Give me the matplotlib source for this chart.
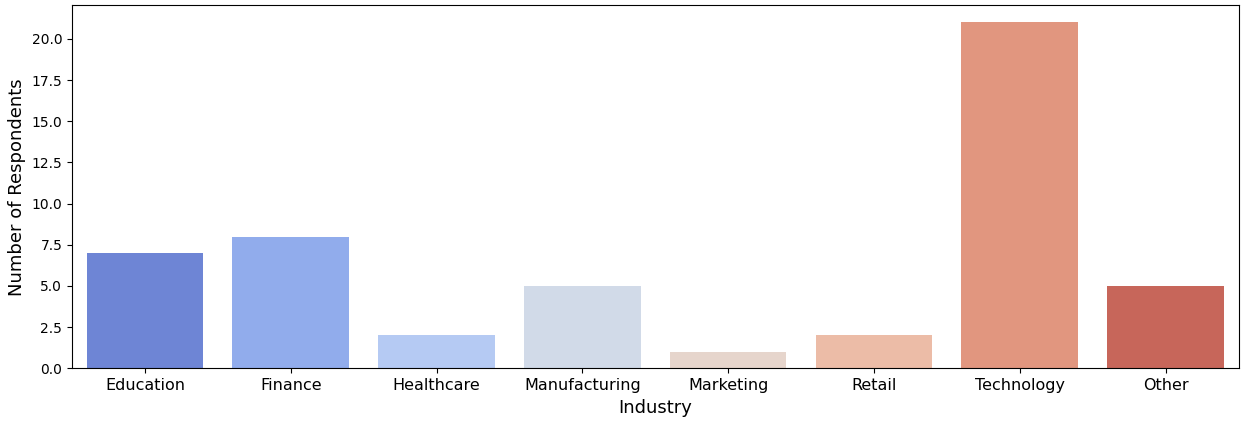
import matplotlib
matplotlib.use("Agg")
import matplotlib.pyplot as plt
import seaborn as sns

industries = ["Education", "Finance", "Healthcare", "Manufacturing",
              "Marketing", "Retail", "Technology", "Other"]
respondents = [7, 8, 2, 5, 1, 2, 21, 5]

fig, ax = plt.subplots(figsize=(12.41, 4.21), dpi=100)
fig.subplots_adjust(left=0.058, right=0.998, top=0.988, bottom=0.125)

colors = sns.color_palette("coolwarm", len(industries))
sns.barplot(x=industries, y=respondents, hue=industries, palette=colors,
            legend=False, ax=ax)

ax.set_xlabel("Industry", fontsize=13)
ax.set_ylabel("Number of Respondents", fontsize=13)
ax.tick_params(axis="x", labelsize=11.5)
ax.tick_params(axis="y", labelsize=10)

fig.savefig("out.png", dpi=100)
